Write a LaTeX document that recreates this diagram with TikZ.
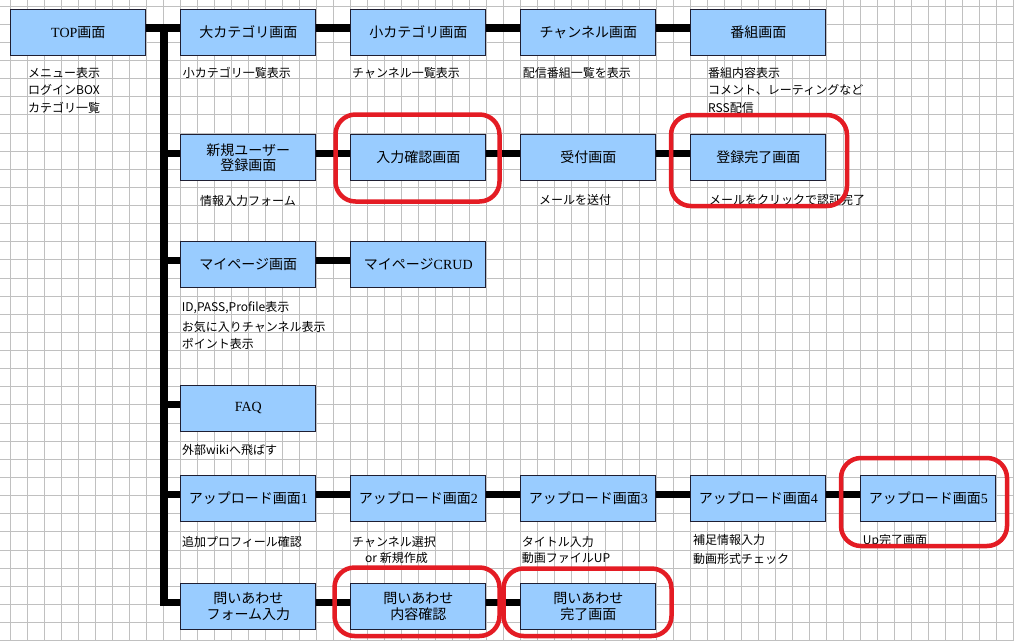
\documentclass[tikz,border=0pt]{standalone}
\usepackage{fontspec}
\setmainfont{Noto Sans CJK JP}
\newfontfamily\serlat{Liberation Serif}
\newcommand\SL[1]{{\serlat #1}}
\tikzset{
  scr/.style={draw={rgb,255:red,30;green,30;blue,50}, line width=0.9pt,
    fill={rgb,255:red,153;green,204;blue,255}, minimum width=135pt,
    minimum height=46pt, inner sep=0pt, align=center,
    font=\fontsize{14}{15.5}\selectfont},
  bar/.style={line width=7.5pt, black},
  note/.style={anchor=base west, inner sep=0pt, font=\fontsize{12}{14}\selectfont},
  ring/.style={draw={rgb,255:red,228;green,28;blue,36}, line width=4.5pt, rounded corners=20pt},
  gridl/.style={draw={rgb,255:red,192;green,192;blue,192}, line width=0.8pt}
}
\begin{document}
\begin{tikzpicture}[x=1pt,y=-1pt]
\useasboundingbox (0,0) rectangle (1014,640);
\fill[white] (0,0) rectangle (1014,640);
% grid
\foreach \i in {0,...,59} \draw[gridl] ({10+17*\i},0) -- ({10+17*\i},640);
\foreach \j in {0,...,35} \draw[gridl] (0,{6+18.13*\j}) -- (1014,{6+18.13*\j});
% screens
\node[scr] (top) at (78.3,32.2) {\SL{TOP}画面};
\node[scr] (c1) at (248.3,32.2) {大カテゴリ画面};
\node[scr] (c2) at (418.3,32.2) {小カテゴリ画面};
\node[scr] (c3) at (588.3,32.2) {チャンネル画面};
\node[scr] (c4) at (758.3,32.2) {番組画面};
\node[scr] (r1) at (248.3,157.5) {新規ユーザー\\登録画面};
\node[scr] (r2) at (418.3,157.5) {入力確認画面};
\node[scr] (r3) at (588.3,157.5) {受付画面};
\node[scr] (r4) at (758.3,157.5) {登録完了画面};
\node[scr] (m1) at (248.3,264.5) {マイページ画面};
\node[scr] (m2) at (418.3,264.5) {マイページ\SL{CRUD}};
\node[scr] (f1) at (248.3,408.3) {\SL{FAQ}};
\node[scr] (u1) at (248.3,498.7) {アップロード画面\SL{1}};
\node[scr] (u2) at (418.3,498.7) {アップロード画面\SL{2}};
\node[scr] (u3) at (588.3,498.7) {アップロード画面\SL{3}};
\node[scr] (u4) at (758.3,498.7) {アップロード画面\SL{4}};
\node[scr] (u5) at (928.3,498.7) {アップロード画面\SL{5}};
\node[scr] (q1) at (248.3,606.3) {問いあわせ\\フォーム入力};
\node[scr] (q2) at (418.3,606.3) {問いあわせ\\内容確認};
\node[scr] (q3) at (588.3,606.3) {問いあわせ\\完了画面};
% spine
\coordinate (sp) at (164,0);
\draw[bar, line cap=rect] ([yshift=4pt]top.east -| sp) -- ([yshift=4pt]q1.west -| sp);
\foreach \n in {r1,m1,f1,u1,q1}
  \draw[bar] ([yshift=4pt]\n.west -| sp) -- ([yshift=4pt]\n.west);
% row bars
\foreach \a/\b in {top/c1,c1/c2,c2/c3,c3/c4,r1/r2,r2/r3,r3/r4,m1/m2,u1/u2,u2/u3,u3/u4,u4/u5,q1/q2,q2/q3}
  \draw[bar] ([yshift=4pt]\a.east) -- ([yshift=4pt]\b.west);
% notes
\node[note] (ta) at (28,77.5) {メニュー表示};
\node[note] (tb) at (28,94.5) {ログインBOX};
\node[note] (tc) at (28,112.5) {カテゴリ一覧};
\node[note] (c1a) at (182.7,77.5) {小カテゴリ一覧表示};
\node[note] (c2a) at (352,77.5) {チャンネル一覧表示};
\node[note] (c3a) at (522.7,77.5) {配信番組一覧を表示};
\node[note] (c4a) at (708,77.5) {番組内容表示};
\node[note] (c4b) at (708,94.5) {コメント、レーティングなど};
\node[note] (c4c) at (708,112.5) {RSS配信};
\node[note] (r1a) at (200,205.5) {情報入力フォーム};
\node[note] (r3a) at (539,204.5) {メールを送付};
\node[note] (r4a) at (709,204.5) {メールをクリックで認証完了};
\node[note] (m1a) at (181.7,311.5) {ID,PASS,Profile表示};
\node[note] (m1b) at (181.7,331.5) {お気に入りチャンネル表示};
\node[note] (m1c) at (181.7,348.5) {ポイント表示};
\node[note] (f1a) at (182,454.5) {外部wikiへ飛ばす};
\node[note] (u1a) at (182,546) {追加プロフィール確認};
\node[note] (u2a) at (352,546) {チャンネル選択};
\node[note] (u2b) at (365,562.5) {or 新規作成};
\node[note] (u3a) at (521.7,546) {タイトル入力};
\node[note] (u3b) at (521.7,562.5) {動画ファイルUP};
\node[note] (u4a) at (693,544.5) {補足情報入力};
\node[note] (u4b) at (693,563.5) {動画形式チェック};
\node[note] (u5a) at (862.7,544.5) {Up完了画面};
% highlights
\draw[ring] (335.5,114.5) rectangle (499.5,201.5);
\draw[ring] (671,115) rectangle (847,206);
\draw[ring] (841,458) rectangle (1007,546);
\draw[ring] (334.5,567.5) rectangle (499.5,636);
\draw[ring] (503.5,568.5) rectangle (671.5,636);
\end{tikzpicture}
\end{document}
